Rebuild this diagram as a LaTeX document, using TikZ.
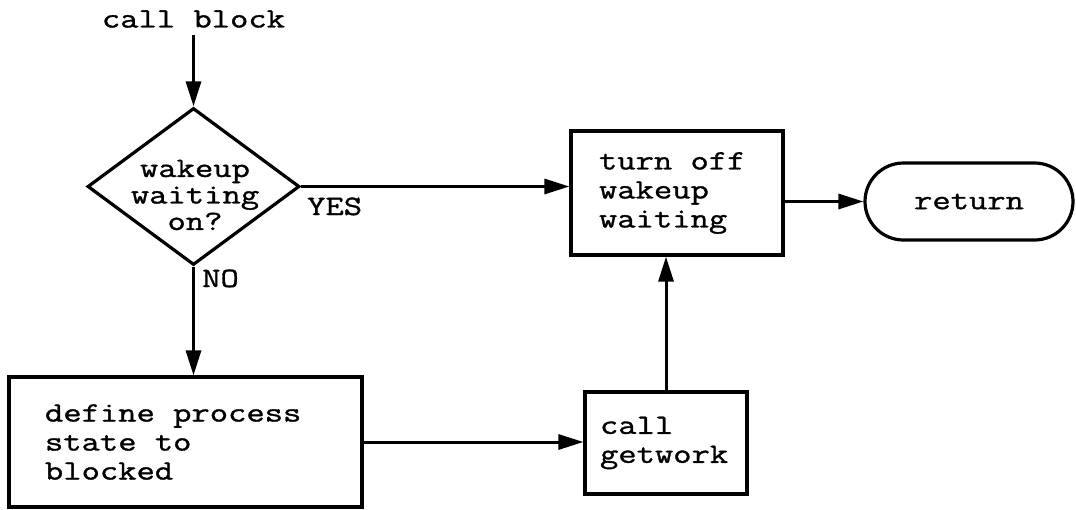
\documentclass[tikz,border=0pt]{standalone}
\usepackage{fontspec}
\newfontfamily\courfont[FakeStretch=1.27,FakeBold=1.2]{Latin Modern Mono}
\newcommand{\fixsp}{\spaceskip=0pt\xspaceskip=0pt\relax}
\usetikzlibrary{arrows.meta,shapes.geometric,shapes.misc}
\begin{document}
\begin{tikzpicture}[x=1pt,y=-1pt,
  txt/.style={font=\courfont\fontsize{28}{29}\selectfont},
  dtxt/.style={font=\courfont\fontsize{28}{26.5}\selectfont},
  box/.style={txt, draw, line width=3.2pt, rectangle, align=left, inner ysep=0pt},
  arr/.style={line width=3pt, -{Triangle[length=25pt,width=15pt]}}]
\useasboundingbox (0,0) rectangle (1076,509);

% nodes
\node[txt, inner sep=0pt] (callblock) at (193.5,19) {call block};
\node[draw, diamond, line width=3.2pt, minimum width=212pt, minimum height=157pt,
      inner sep=0pt] (dec) at (193.5,186.5) {};
\node[dtxt, align=center, inner sep=0pt] (dectext) at (195,195) {wakeup\\waiting\\on?};
\node[box, minimum width=212pt, minimum height=124pt, inner xsep=28pt,
      text width=156pt] (turnoff) at (677,193) {\fixsp turn off\\wakeup\\waiting};
\node[txt, draw, rounded rectangle, line width=3.2pt, minimum width=208pt,
      minimum height=77pt, inner sep=0pt] (ret) at (969,201.5) {return};
\node[box, minimum width=353pt, minimum height=130pt, inner xsep=36pt,
      text width=281pt] (define) at (185.5,442) {\fixsp define process\\state to\\blocked};
\node[box, minimum width=162pt, minimum height=102pt, inner xsep=15pt,
      text width=132pt] (getwork) at (666,443) {call\\getwork};
\node[txt, inner sep=0pt, anchor=base west] (yes) at (307,215) {YES};
\node[txt, inner sep=0pt, anchor=base west] (no) at (202,287) {NO};

% connectors
\path (callblock.south) ++(0,7) coordinate (cbs);
\draw[arr] (cbs) -- (dec.north);
\draw[arr] (dec.east) -- (dec.east -| turnoff.west);
\draw[arr] (dec.south) -- (dec.south |- define.north);
\draw[arr] (define.east) -- (define.east -| getwork.west);
\draw[arr] (getwork.north) -- (getwork.north |- turnoff.south);
\draw[arr] (ret.west -| turnoff.east) -- (ret.west);
\end{tikzpicture}
\end{document}
